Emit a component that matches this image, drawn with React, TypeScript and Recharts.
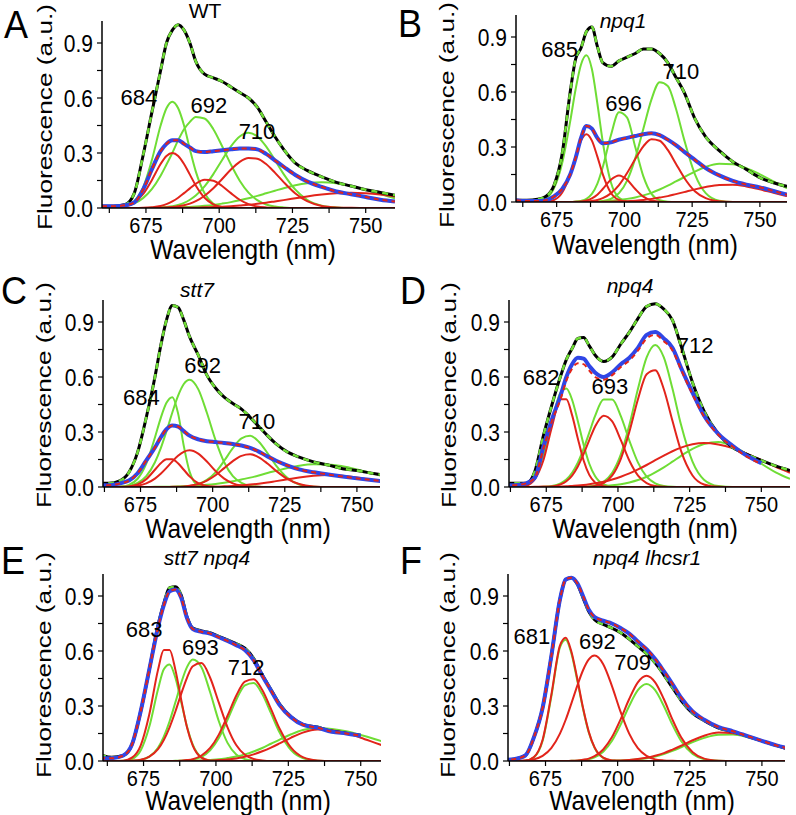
import React from 'react';
import { LineChart, Line, XAxis, YAxis, ReferenceDot } from 'recharts';

const FONT = '"Liberation Sans", Arial, Helvetica, sans-serif';
const GREEN = '#6fdd35';
const RED = '#e2241b';
const BLUE = '#3046e6';
const BLACK = '#000000';

// sampling grid (nm) shared by every curve
const WAVELENGTH = [660, 664, 668, 671, 674, 677, 680, 682, 684, 686, 688, 690, 692, 695, 698, 701, 704, 707, 710, 713, 716, 719, 722, 726, 730, 735, 740, 745, 750, 755, 760];
const X_TICKS = [662.5, 675, 687.5, 700, 712.5, 725, 737.5, 750];
const Y_TICKS = [0, 0.15, 0.3, 0.45, 0.6, 0.75, 0.9];

// A: WT
const wtMeasured = [0.01, 0.01, 0.02, 0.08, 0.285, 0.52, 0.75, 0.9, 0.97, 1.0, 0.97, 0.9, 0.8, 0.73, 0.71, 0.69, 0.66, 0.63, 0.6, 0.55, 0.47, 0.39, 0.32, 0.245, 0.205, 0.17, 0.14, 0.12, 0.1, 0.085, 0.07];
const wtRedSum = [0.01, 0.01, 0.015, 0.03, 0.1, 0.21, 0.31, 0.35, 0.37, 0.37, 0.35, 0.33, 0.31, 0.305, 0.31, 0.315, 0.32, 0.325, 0.325, 0.32, 0.295, 0.26, 0.225, 0.18, 0.145, 0.115, 0.09, 0.075, 0.06, 0.045, 0.035];
const wtGreen684 = [0, 0, 0.008, 0.036, 0.11, 0.26, 0.45, 0.544, 0.58, 0.544, 0.45, 0.32, 0.2, 0.08, 0.023, 0.004, 0, 0, 0, 0, 0, 0, 0, 0, 0, 0, 0, 0, 0, 0, 0];
const wtGreen692 = [0.001, 0.003, 0.011, 0.025, 0.054, 0.103, 0.176, 0.237, 0.3, 0.37, 0.43, 0.47, 0.497, 0.488, 0.43, 0.337, 0.237, 0.149, 0.084, 0.043, 0.019, 0.008, 0.003, 0, 0, 0, 0, 0, 0, 0, 0];
const wtGreen710 = [0, 0, 0, 0, 0, 0, 0.003, 0.005, 0.009, 0.017, 0.028, 0.045, 0.068, 0.118, 0.185, 0.262, 0.336, 0.39, 0.41, 0.39, 0.336, 0.262, 0.185, 0.1, 0.045, 0.013, 0.003, 0, 0, 0, 0];
const wtGreen735 = [0, 0, 0, 0, 0, 0.001, 0.001, 0.002, 0.003, 0.004, 0.005, 0.006, 0.008, 0.012, 0.017, 0.024, 0.032, 0.042, 0.053, 0.066, 0.08, 0.094, 0.108, 0.124, 0.135, 0.14, 0.135, 0.12, 0.099, 0.076, 0.053];
const wtRed684 = [0, 0.001, 0.009, 0.029, 0.075, 0.152, 0.24, 0.284, 0.3, 0.284, 0.24, 0.182, 0.123, 0.056, 0.02, 0.005, 0.001, 0, 0, 0, 0, 0, 0, 0, 0, 0, 0, 0, 0, 0, 0];
const wtRed696 = [0, 0, 0, 0, 0.001, 0.004, 0.011, 0.021, 0.036, 0.056, 0.081, 0.107, 0.132, 0.154, 0.149, 0.12, 0.081, 0.045, 0.021, 0.008, 0.003, 0.001, 0, 0, 0, 0, 0, 0, 0, 0, 0];
const wtRed711 = [0, 0, 0, 0, 0, 0, 0.001, 0.003, 0.005, 0.009, 0.015, 0.024, 0.037, 0.067, 0.108, 0.158, 0.21, 0.252, 0.273, 0.269, 0.24, 0.193, 0.141, 0.079, 0.037, 0.011, 0.003, 0.001, 0, 0, 0];
const wtRed745 = [0, 0, 0, 0, 0, 0, 0, 0.001, 0.001, 0.001, 0.001, 0.002, 0.002, 0.004, 0.005, 0.007, 0.01, 0.014, 0.018, 0.023, 0.029, 0.036, 0.043, 0.053, 0.063, 0.073, 0.08, 0.083, 0.08, 0.073, 0.063];

// B: npq1
const npq1Measured = [0.01, 0.01, 0.015, 0.03, 0.09, 0.26, 0.6, 0.78, 0.84, 0.93, 0.955, 0.85, 0.76, 0.74, 0.77, 0.79, 0.81, 0.835, 0.835, 0.81, 0.76, 0.68, 0.6, 0.455, 0.355, 0.28, 0.22, 0.178, 0.133, 0.105, 0.085];
const npq1RedSum = [0.01, 0.005, 0.005, 0.01, 0.03, 0.07, 0.15, 0.24, 0.35, 0.415, 0.4, 0.35, 0.32, 0.325, 0.34, 0.35, 0.36, 0.37, 0.375, 0.365, 0.34, 0.31, 0.275, 0.23, 0.185, 0.145, 0.115, 0.095, 0.08, 0.06, 0.04];
const npq1Green686 = [0, 0, 0.004, 0.019, 0.074, 0.21, 0.44, 0.615, 0.75, 0.8, 0.725, 0.54, 0.33, 0.108, 0.023, 0.003, 0, 0, 0, 0, 0, 0, 0, 0, 0, 0, 0, 0, 0, 0, 0];
const npq1Green699 = [0, 0, 0, 0, 0, 0, 0, 0.002, 0.006, 0.017, 0.044, 0.099, 0.19, 0.363, 0.49, 0.46, 0.3, 0.14, 0.044, 0.01, 0.002, 0, 0, 0, 0, 0, 0, 0, 0, 0, 0];
const npq1Green714 = [0, 0, 0, 0, 0, 0, 0, 0, 0, 0, 0.001, 0.002, 0.005, 0.017, 0.048, 0.117, 0.238, 0.4, 0.56, 0.653, 0.633, 0.51, 0.343, 0.152, 0.048, 0.007, 0, 0, 0, 0, 0];
const npq1Green737 = [0, 0, 0, 0, 0, 0, 0, 0.001, 0.001, 0.001, 0.002, 0.003, 0.004, 0.007, 0.011, 0.017, 0.025, 0.036, 0.05, 0.068, 0.089, 0.112, 0.135, 0.166, 0.191, 0.208, 0.206, 0.185, 0.151, 0.112, 0.075];
const npq1Red686 = [0, 0, 0, 0.002, 0.011, 0.05, 0.152, 0.249, 0.335, 0.37, 0.335, 0.249, 0.152, 0.05, 0.011, 0.002, 0, 0, 0, 0, 0, 0, 0, 0, 0, 0, 0, 0, 0, 0, 0];
const npq1Red698 = [0, 0, 0, 0, 0, 0, 0, 0.001, 0.003, 0.008, 0.02, 0.04, 0.071, 0.121, 0.145, 0.121, 0.071, 0.029, 0.008, 0.002, 0, 0, 0, 0, 0, 0, 0, 0, 0, 0, 0];
const npq1Red711 = [0, 0, 0, 0, 0, 0, 0, 0, 0.001, 0.003, 0.006, 0.011, 0.021, 0.047, 0.092, 0.158, 0.235, 0.304, 0.342, 0.334, 0.284, 0.209, 0.134, 0.059, 0.021, 0.004, 0, 0, 0, 0, 0];
const npq1Red738 = [0, 0, 0, 0, 0, 0, 0, 0, 0, 0, 0, 0, 0.001, 0.002, 0.003, 0.004, 0.007, 0.011, 0.017, 0.024, 0.032, 0.043, 0.054, 0.069, 0.082, 0.093, 0.094, 0.085, 0.069, 0.05, 0.032];

// C: stt7
const stt7Measured = [0.02, 0.02, 0.035, 0.08, 0.19, 0.38, 0.6, 0.77, 0.91, 0.99, 0.98, 0.91, 0.82, 0.72, 0.61, 0.54, 0.49, 0.455, 0.425, 0.38, 0.33, 0.28, 0.235, 0.19, 0.163, 0.137, 0.12, 0.1, 0.09, 0.075, 0.065];
const stt7RedSum = [0.01, 0.01, 0.02, 0.035, 0.075, 0.145, 0.215, 0.27, 0.315, 0.335, 0.33, 0.305, 0.28, 0.26, 0.25, 0.245, 0.24, 0.234, 0.226, 0.213, 0.193, 0.167, 0.143, 0.117, 0.096, 0.08, 0.068, 0.057, 0.047, 0.038, 0.03];
const stt7Green685 = [0, 0, 0.002, 0.012, 0.045, 0.128, 0.27, 0.376, 0.459, 0.49, 0.403, 0.224, 0.084, 0.009, 0, 0, 0, 0, 0, 0, 0, 0, 0, 0, 0, 0, 0, 0, 0, 0, 0];
const stt7Green692 = [0, 0, 0.002, 0.006, 0.022, 0.059, 0.135, 0.211, 0.304, 0.405, 0.497, 0.562, 0.585, 0.534, 0.405, 0.256, 0.135, 0.059, 0.022, 0.006, 0.002, 0, 0, 0, 0, 0, 0, 0, 0, 0, 0];
const stt7Green712 = [0, 0, 0, 0, 0, 0, 0, 0, 0, 0, 0.001, 0.002, 0.005, 0.015, 0.039, 0.08, 0.143, 0.212, 0.265, 0.279, 0.247, 0.185, 0.117, 0.049, 0.014, 0.002, 0, 0, 0, 0, 0];
const stt7Green737 = [0, 0, 0, 0, 0, 0, 0.001, 0.001, 0.002, 0.002, 0.003, 0.004, 0.006, 0.008, 0.012, 0.017, 0.023, 0.031, 0.041, 0.051, 0.063, 0.076, 0.088, 0.104, 0.116, 0.124, 0.123, 0.113, 0.096, 0.076, 0.055];
const stt7Red685 = [0, 0, 0, 0.003, 0.014, 0.043, 0.094, 0.129, 0.152, 0.152, 0.129, 0.094, 0.058, 0.021, 0.005, 0.001, 0, 0, 0, 0, 0, 0, 0, 0, 0, 0, 0, 0, 0, 0, 0];
const stt7Red692 = [0, 0, 0.001, 0.002, 0.007, 0.02, 0.046, 0.072, 0.104, 0.139, 0.17, 0.192, 0.2, 0.182, 0.139, 0.087, 0.046, 0.02, 0.007, 0.002, 0.001, 0, 0, 0, 0, 0, 0, 0, 0, 0, 0];
const stt7Red712 = [0, 0, 0, 0, 0, 0, 0, 0, 0, 0.001, 0.001, 0.003, 0.007, 0.016, 0.035, 0.064, 0.103, 0.141, 0.17, 0.178, 0.162, 0.128, 0.088, 0.043, 0.016, 0.003, 0, 0, 0, 0, 0];
const stt7Red740 = [0, 0, 0, 0, 0, 0, 0, 0, 0, 0, 0, 0, 0, 0.001, 0.001, 0.002, 0.004, 0.006, 0.009, 0.013, 0.018, 0.024, 0.032, 0.042, 0.052, 0.061, 0.065, 0.061, 0.052, 0.039, 0.027];

// D: npq4
const npq4Measured = [0.02, 0.02, 0.02, 0.085, 0.28, 0.45, 0.605, 0.695, 0.755, 0.81, 0.815, 0.77, 0.72, 0.685, 0.71, 0.78, 0.845, 0.92, 0.985, 1.0, 0.97, 0.91, 0.77, 0.57, 0.415, 0.29, 0.215, 0.178, 0.145, 0.115, 0.09];
const npq4RedSum = [0.01, 0.01, 0.02, 0.05, 0.22, 0.37, 0.5, 0.6, 0.67, 0.705, 0.7, 0.66, 0.625, 0.6, 0.625, 0.67, 0.705, 0.76, 0.83, 0.845, 0.81, 0.76, 0.65, 0.515, 0.39, 0.29, 0.225, 0.17, 0.13, null, null];
const npq4RedFit = [0.01, 0.01, 0.02, 0.05, 0.21, 0.36, 0.48, 0.58, 0.645, 0.675, 0.67, 0.635, 0.6, 0.585, 0.61, 0.655, 0.69, 0.745, 0.81, 0.83, 0.795, 0.745, 0.64, 0.505, 0.385, 0.285, 0.22, 0.165, 0.125, null, null];
const npq4Green682 = [0, 0.001, 0.014, 0.06, 0.175, 0.36, 0.516, 0.537, 0.476, 0.36, 0.232, 0.127, 0.06, 0.014, 0.002, 0, 0, 0, 0, 0, 0, 0, 0, 0, 0, 0, 0, 0, 0, 0, 0];
const npq4Green696 = [0, 0, 0, 0, 0.001, 0.005, 0.02, 0.041, 0.078, 0.133, 0.208, 0.297, 0.386, 0.477, 0.477, 0.386, 0.252, 0.133, 0.056, 0.02, 0.005, 0.001, 0, 0, 0, 0, 0, 0, 0, 0, 0];
const npq4Green713 = [0, 0, 0, 0, 0, 0, 0, 0, 0, 0, 0.001, 0.003, 0.009, 0.029, 0.078, 0.178, 0.339, 0.537, 0.707, 0.775, 0.707, 0.537, 0.339, 0.138, 0.04, 0.005, 0, 0, 0, 0, 0];
const npq4Green734 = [0, 0, 0, 0, 0, 0, 0, 0, 0, 0.001, 0.001, 0.002, 0.003, 0.005, 0.009, 0.015, 0.025, 0.038, 0.056, 0.08, 0.107, 0.138, 0.17, 0.208, 0.235, 0.245, 0.223, 0.18, 0.127, 0.08, 0.044];
const npq4Red681 = [0, 0, 0.007, 0.042, 0.146, 0.33, 0.478, 0.478, 0.392, 0.265, 0.146, 0.066, 0.025, 0.004, 0, 0, 0, 0, 0, 0, 0, 0, 0, 0, 0, 0, 0, 0, 0, 0, 0];
const npq4Red695 = [0, 0, 0, 0, 0.001, 0.003, 0.014, 0.031, 0.062, 0.112, 0.179, 0.256, 0.329, 0.389, 0.358, 0.256, 0.143, 0.062, 0.021, 0.005, 0.001, 0, 0, 0, 0, 0, 0, 0, 0, 0, 0];
const npq4Red712 = [0, 0, 0, 0, 0, 0, 0, 0, 0, 0, 0.001, 0.002, 0.006, 0.021, 0.063, 0.154, 0.303, 0.48, 0.615, 0.637, 0.533, 0.361, 0.197, 0.063, 0.014, 0.001, 0, 0, 0, 0, 0];
const npq4Red730 = [0, 0, 0, 0.001, 0.001, 0.002, 0.003, 0.004, 0.006, 0.008, 0.011, 0.015, 0.02, 0.029, 0.041, 0.056, 0.074, 0.096, 0.12, 0.146, 0.171, 0.195, 0.215, 0.233, 0.24, 0.232, 0.212, 0.181, 0.146, 0.11, 0.078];

// E: stt7 npq4
const stt7npq4Measured = [0.035, 0.02, 0.03, 0.09, 0.27, 0.5, 0.74, 0.86, 0.945, 0.95, 0.905, 0.787, 0.725, 0.71, 0.7, 0.68, 0.66, 0.64, 0.615, 0.56, 0.47, 0.39, 0.31, 0.24, 0.2, 0.185, 0.162, 0.152, 0.14, null, null];
const stt7npq4RedSum = [0.015, 0.015, 0.03, 0.09, 0.27, 0.5, 0.73, 0.85, 0.925, 0.935, 0.89, 0.78, 0.72, 0.705, 0.695, 0.675, 0.655, 0.632, 0.605, 0.55, 0.465, 0.385, 0.305, 0.238, 0.198, 0.182, 0.16, 0.15, 0.138, null, null];
const stt7npq4Green683 = [0, 0, 0.001, 0.011, 0.057, 0.188, 0.391, 0.501, 0.527, 0.454, 0.322, 0.188, 0.089, 0.02, 0.003, 0, 0, 0, 0, 0, 0, 0, 0, 0, 0, 0, 0, 0, 0, 0, 0];
const stt7npq4Green692 = [0, 0, 0, 0.001, 0.006, 0.024, 0.072, 0.133, 0.217, 0.32, 0.426, 0.512, 0.553, 0.512, 0.375, 0.217, 0.099, 0.036, 0.01, 0.002, 0, 0, 0, 0, 0, 0, 0, 0, 0, 0, 0];
const stt7npq4Green712 = [0, 0, 0, 0, 0, 0, 0, 0, 0, 0.001, 0.001, 0.003, 0.007, 0.022, 0.058, 0.125, 0.224, 0.333, 0.413, 0.426, 0.365, 0.261, 0.155, 0.058, 0.016, 0.002, 0, 0, 0, 0, 0];
const stt7npq4Green735 = [0, 0, 0, 0, 0, 0, 0, 0, 0, 0, 0.001, 0.001, 0.002, 0.003, 0.006, 0.009, 0.016, 0.024, 0.036, 0.052, 0.071, 0.094, 0.117, 0.146, 0.169, 0.18, 0.175, 0.162, 0.142, 0.119, 0.094];
const stt7npq4Red683 = [0, 0, 0.002, 0.018, 0.084, 0.255, 0.497, 0.605, 0.605, 0.497, 0.335, 0.184, 0.084, 0.018, 0.002, 0, 0, 0, 0, 0, 0, 0, 0, 0, 0, 0, 0, 0, 0, 0, 0];
const stt7npq4Red694 = [0, 0, 0, 0.002, 0.007, 0.024, 0.065, 0.115, 0.184, 0.27, 0.366, 0.454, 0.517, 0.534, 0.454, 0.318, 0.184, 0.087, 0.034, 0.011, 0.003, 0, 0, 0, 0, 0, 0, 0, 0, 0, 0];
const stt7npq4Red712 = [0, 0, 0, 0, 0, 0, 0, 0, 0, 0, 0.002, 0.005, 0.01, 0.03, 0.071, 0.144, 0.247, 0.356, 0.433, 0.446, 0.387, 0.284, 0.176, 0.071, 0.021, 0.003, 0, 0, 0, 0, 0];
const stt7npq4Red736 = [0, 0, 0, 0, 0, 0, 0, 0, 0, 0, 0, 0, 0, 0.001, 0.002, 0.005, 0.008, 0.014, 0.023, 0.036, 0.053, 0.073, 0.096, 0.128, 0.155, 0.172, 0.168, 0.152, 0.127, 0.099, 0.071];

// F: npq4 lhcsr1
const lhcsr1Measured = [0.005, 0.01, 0.03, 0.13, 0.29, 0.57, 0.88, 0.99, 1.0, 0.965, 0.89, 0.815, 0.77, 0.745, 0.725, 0.7, 0.665, 0.625, 0.585, 0.535, 0.47, 0.4, 0.33, 0.26, 0.22, 0.18, 0.16, 0.135, 0.11, 0.085, 0.065];
const lhcsr1RedSum = [0.005, 0.01, 0.03, 0.13, 0.29, 0.57, 0.88, 0.99, 1.0, 0.97, 0.9, 0.825, 0.785, 0.765, 0.75, 0.725, 0.695, 0.652, 0.61, 0.556, 0.49, 0.42, 0.345, 0.27, 0.225, 0.185, 0.162, 0.136, 0.11, 0.085, 0.065];
const lhcsr1Green681 = [0, 0, 0.002, 0.02, 0.11, 0.35, 0.62, 0.662, 0.585, 0.44, 0.285, 0.155, 0.072, 0.017, 0.003, 0, 0, 0, 0, 0, 0, 0, 0, 0, 0, 0, 0, 0, 0, 0, 0];
const lhcsr1Green709 = [0, 0, 0, 0, 0, 0, 0, 0, 0.001, 0.002, 0.005, 0.01, 0.02, 0.051, 0.109, 0.197, 0.3, 0.386, 0.42, 0.386, 0.3, 0.197, 0.109, 0.038, 0.01, 0.001, 0, 0, 0, 0, 0];
const lhcsr1Green737 = [0, 0, 0, 0, 0, 0, 0, 0, 0, 0, 0, 0, 0, 0.001, 0.002, 0.003, 0.005, 0.009, 0.015, 0.025, 0.038, 0.055, 0.075, 0.103, 0.126, 0.143, 0.144, 0.13, 0.107, 0.082, 0.058];
const lhcsr1Red681 = [0, 0, 0.002, 0.022, 0.116, 0.359, 0.629, 0.672, 0.595, 0.45, 0.29, 0.159, 0.074, 0.018, 0.003, 0, 0, 0, 0, 0, 0, 0, 0, 0, 0, 0, 0, 0, 0, 0, 0];
const lhcsr1Red692 = [0, 0, 0.003, 0.009, 0.028, 0.07, 0.149, 0.225, 0.316, 0.41, 0.495, 0.554, 0.575, 0.528, 0.41, 0.269, 0.149, 0.07, 0.028, 0.009, 0.003, 0.001, 0, 0, 0, 0, 0, 0, 0, 0, 0];
const lhcsr1Red710 = [0, 0, 0, 0, 0, 0, 0, 0, 0.001, 0.003, 0.007, 0.013, 0.026, 0.063, 0.129, 0.226, 0.338, 0.429, 0.465, 0.429, 0.338, 0.226, 0.129, 0.048, 0.013, 0.002, 0, 0, 0, 0, 0];
const lhcsr1Red736 = [0, 0, 0, 0, 0, 0, 0, 0, 0, 0, 0, 0, 0, 0.001, 0.002, 0.003, 0.006, 0.011, 0.018, 0.029, 0.043, 0.062, 0.083, 0.113, 0.138, 0.155, 0.151, 0.135, 0.11, 0.083, 0.057];

// peak annotations: [nm, value, text]
const wtPeaks: [number, number, string][] = [[672.6, 0.605, '684'], [696.5, 0.56, '692'], [712.9, 0.415, '710']];
const npq1Peaks: [number, number, string][] = [[676.1, 0.83, '685'], [699.7, 0.54, '696'], [720.8, 0.71, '710']];
const stt7Peaks: [number, number, string][] = [[675.3, 0.49, '684'], [696.5, 0.665, '692'], [715.3, 0.355, '710']];
const npq4Peaks: [number, number, string][] = [[673.2, 0.595, '682'], [697.2, 0.546, '693'], [726.9, 0.77, '712']];
const stt7npq4Peaks: [number, number, string][] = [[675.2, 0.715, '683'], [694.6, 0.62, '693'], [710.4, 0.51, '712']];
const lhcsr1Peaks: [number, number, string][] = [[670.3, 0.68, '681'], [693, 0.65, '692'], [705.2, 0.535, '709']];

const PLOT_H = 187;

const PANELS = [
  { letter: 'A', title: 'WT', italic: false, left: 102, top: 21, width: 293, domain: [660, 760],
    measured: wtMeasured, redSum: wtRedSum, redFit: wtRedSum,
    green: [wtGreen684, wtGreen692, wtGreen710, wtGreen735], red: [wtRed684, wtRed696, wtRed711, wtRed745], peaks: wtPeaks,
    letterPos: [4, 38], titlePos: [205, 18], yTitlePos: [44, 117], xTitlePos: [243, 259] },
  { letter: 'B', title: 'npq1', italic: true, left: 516, top: 15, width: 271, domain: [660, 760],
    measured: npq1Measured, redSum: npq1RedSum, redFit: npq1RedSum,
    green: [npq1Green686, npq1Green699, npq1Green714, npq1Green737], red: [npq1Red686, npq1Red698, npq1Red711, npq1Red738], peaks: npq1Peaks,
    letterPos: [398, 37], titlePos: [623, 28], yTitlePos: [446, 115], xTitlePos: [645, 254] },
  { letter: 'C', title: 'stt7', italic: true, left: 103, top: 300, width: 277, domain: [662, 758],
    measured: stt7Measured, redSum: stt7RedSum, redFit: stt7RedSum,
    green: [stt7Green685, stt7Green692, stt7Green712, stt7Green737], red: [stt7Red685, stt7Red692, stt7Red712, stt7Red740], peaks: stt7Peaks,
    letterPos: [1, 304], titlePos: [197, 297], yTitlePos: [43, 395], xTitlePos: [238, 538] },
  { letter: 'D', title: 'npq4', italic: true, left: 509, top: 300, width: 281, domain: [662, 760],
    measured: npq4Measured, redSum: npq4RedSum, redFit: npq4RedFit,
    green: [npq4Green682, npq4Green696, npq4Green713, npq4Green734], red: [npq4Red681, npq4Red695, npq4Red712, npq4Red730], peaks: npq4Peaks,
    letterPos: [400, 304], titlePos: [630, 293], yTitlePos: [448, 395], xTitlePos: [645, 538] },
  { letter: 'E', title: 'stt7 npq4', italic: true, left: 103, top: 574, width: 278, domain: [661, 757],
    measured: stt7npq4Measured, redSum: stt7npq4RedSum, redFit: stt7npq4RedSum,
    green: [stt7npq4Green683, stt7npq4Green692, stt7npq4Green712, stt7npq4Green735], red: [stt7npq4Red683, stt7npq4Red694, stt7npq4Red712, stt7npq4Red736], peaks: stt7npq4Peaks,
    letterPos: [1, 574], titlePos: [207, 565], yTitlePos: [43, 665], xTitlePos: [238, 810] },
  { letter: 'F', title: 'npq4 lhcsr1', italic: true, left: 508, top: 574, width: 277, domain: [662, 758],
    measured: lhcsr1Measured, redSum: lhcsr1RedSum, redFit: lhcsr1RedSum,
    green: [lhcsr1Green681, lhcsr1Green709, lhcsr1Green737], red: [lhcsr1Red681, lhcsr1Red692, lhcsr1Red710, lhcsr1Red736], peaks: lhcsr1Peaks,
    letterPos: [400, 574], titlePos: [647, 565], yTitlePos: [447, 665], xTitlePos: [642, 810] },
];

function XTick(props: any) {
  const { x, y, payload } = props;
  const v = payload.value;
  const text = v % 25 === 0 ? String(v) : '';
  return (
    <text transform={`translate(${x},${y + 18}) scale(1,1.1)`} textAnchor="middle" fontSize={20} fontFamily={FONT} fill="#000">
      {text}
    </text>
  );
}

function YTick(props: any) {
  const { x, y, payload } = props;
  const v = payload.value;
  const major = Math.abs(v / 0.3 - Math.round(v / 0.3)) < 1e-6;
  return (
    <text transform={`translate(${x - 2},${y + 8.5}) scale(1,1.18)`} textAnchor="end" fontSize={21} fontFamily={FONT} fill="#000">
      {major ? v.toFixed(1) : ''}
    </text>
  );
}

function PanelChart({ p }: { p: any }) {
  const rows = WAVELENGTH.map((w, i) => {
    const r: any = { w, m: p.measured[i], b: p.redSum[i], rf: p.redFit[i] };
    p.green.forEach((g: number[], k: number) => { r['g' + k] = g[i]; });
    p.red.forEach((g: number[], k: number) => { r['r' + k] = g[i]; });
    return r;
  });
  const W = p.width + 110;
  const H = PLOT_H + 70;
  return (
    <div style={{ position: 'absolute', left: p.left - 100, top: p.top - 10 }}>
      <LineChart width={W} height={H} data={rows} margin={{ top: 10, right: 10, bottom: 0, left: 0 }}>
        <XAxis type="number" dataKey="w" domain={p.domain} allowDataOverflow ticks={X_TICKS} interval={0}
          height={60} tickSize={5} tick={(t: any) => <XTick {...t} />}
          axisLine={{ stroke: '#000', strokeWidth: 1.5 }} tickLine={{ stroke: '#000', strokeWidth: 1.2 }} />
        <YAxis type="number" domain={[0, 1.02]} allowDataOverflow ticks={Y_TICKS} interval={0}
          width={100} tickSize={5} tick={(t: any) => <YTick {...t} />}
          axisLine={{ stroke: '#000', strokeWidth: 1.5 }} tickLine={{ stroke: '#000', strokeWidth: 1.2 }} />
        {p.green.map((_: any, k: number) => (
          <Line key={'g' + k} type="monotone" dataKey={'g' + k} stroke={GREEN} strokeWidth={2} dot={false} isAnimationActive={false} />
        ))}
        {p.red.map((_: any, k: number) => (
          <Line key={'r' + k} type="monotone" dataKey={'r' + k} stroke={RED} strokeWidth={2} dot={false} isAnimationActive={false} />
        ))}
        <Line type="monotone" dataKey="m" stroke={BLACK} strokeWidth={3} dot={false} isAnimationActive={false} />
        <Line type="monotone" dataKey="m" stroke={GREEN} strokeWidth={2.5} strokeDasharray="6 5" dot={false} isAnimationActive={false} />
        <Line type="monotone" dataKey="b" stroke={BLUE} strokeWidth={4} dot={false} isAnimationActive={false} />
        <Line type="monotone" dataKey="rf" stroke={RED} strokeWidth={2} strokeDasharray="5 4" dot={false} isAnimationActive={false} />
        {p.peaks.map((pk: [number, number, string]) => (
          <ReferenceDot key={pk[2]} x={pk[0]} y={pk[1]} r={0}
            shape={(s: any) => (
              <text x={s.cx} y={s.cy} textAnchor="middle" dominantBaseline="central" fontSize={22} fontFamily={FONT} fill="#000">{pk[2]}</text>
            )} />
        ))}
      </LineChart>
    </div>
  );
}

export default function App() {
  return (
    <div style={{ position: 'absolute', left: 0, top: 0, width: 796, height: 815, overflow: 'hidden', background: '#fff' }}>
      {PANELS.map((p) => <PanelChart key={p.letter} p={p} />)}
      <svg width={796} height={815} style={{ position: 'absolute', left: 0, top: 0, pointerEvents: 'none' }}>
        {PANELS.map((p) => (
          <g key={p.letter} fontFamily={FONT} fill="#000">
            <text transform={`translate(${p.letterPos[0]},${p.letterPos[1]}) scale(1,1.1)`} fontSize={36}>{p.letter}</text>
            <text x={p.titlePos[0]} y={p.titlePos[1]} textAnchor="middle" fontSize={21} fontStyle={p.italic ? 'italic' : 'normal'}>{p.title}</text>
            <text transform={`translate(${p.yTitlePos[0]},${p.yTitlePos[1]}) rotate(-90) scale(1.25,1)`} textAnchor="middle" dominantBaseline="central" fontSize={21}>Fluorescence (a.u.)</text>
            <text transform={`translate(${p.xTitlePos[0]},${p.xTitlePos[1]}) scale(1,1.1)`} textAnchor="middle" fontSize={24.5}>Wavelength (nm)</text>
          </g>
        ))}
      </svg>
    </div>
  );
}
